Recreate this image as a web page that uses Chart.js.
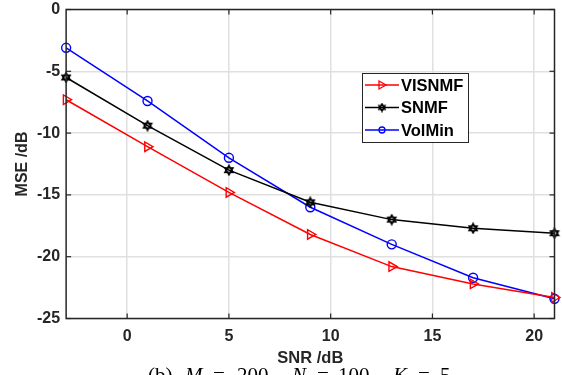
<!DOCTYPE html>
<html>
<head>
<meta charset="utf-8">
<script src="https://cdn.jsdelivr.net/npm/chart.js@4"></script>
<style>
html,body{margin:0;padding:0;background:#fff;}
#wrap{width:562px;height:375px;position:relative;}
</style>
</head>
<body>
<div id="wrap"><canvas id="c" width="562" height="375"></canvas></div>
<script>
const snr = [-3, 1, 5, 9, 13, 17, 21];
const visnmf = [-7.3, -11.1, -14.8, -18.2, -20.8, -22.2, -23.3];
const snmf = [-5.5, -9.4, -13.0, -15.6, -17.0, -17.7, -18.1];
const volmin = [-3.1, -7.4, -12.0, -16.0, -19.0, -21.7, -23.4];
const xTicks = [0, 5, 10, 15, 20];
const yTicks = [-25, -20, -15, -10, -5, 0];
const seriesNames = ['VISNMF', 'SNMF', 'VolMin'];
const xLabel = 'SNR /dB';
const yLabel = 'MSE /dB';
const captionParts = [['(b)', false, 148], ['M', true, 185], ['=', false, 213], ['200,', false, 237], ['N', true, 292], ['=', false, 317], ['100,', false, 338], ['K', true, 393], ['=', false, 418], ['5', false, 440]];

function hexagram(size, r, lw) {
  const cv = document.createElement('canvas');
  cv.width = size; cv.height = size;
  const g = cv.getContext('2d');
  const c = size / 2;
  g.strokeStyle = '#000'; g.lineWidth = lw; g.lineJoin = 'miter';
  for (let t = 0; t < 2; t++) {
    g.beginPath();
    for (let i = 0; i < 3; i++) {
      const a = -Math.PI / 2 + t * Math.PI + i * 2 * Math.PI / 3;
      const px = c + r * Math.cos(a), py = c + r * Math.sin(a);
      if (i === 0) g.moveTo(px, py); else g.lineTo(px, py);
    }
    g.closePath(); g.stroke();
  }
  return cv;
}
const hexBig = hexagram(12, 4.6, 1.6);
const hexSmall = hexagram(10, 3.6, 1.5);

const toPts = (arr) => snr.map((x, i) => ({x: x, y: arr[i]}));

const FONT = "'Liberation Sans', Arial, Helvetica, sans-serif";

const framePlugin = {
  id: 'frame',
  afterDatasetsDraw(chart) {
    const {ctx, chartArea: a, scales} = chart;
    ctx.save();
    ctx.strokeStyle = '#262626';
    ctx.lineWidth = 1.5;
    ctx.strokeRect(a.left, a.top, a.right - a.left, a.bottom - a.top);
    ctx.lineWidth = 1.2;
    xTicks.forEach(v => {
      const px = scales.x.getPixelForValue(v);
      ctx.beginPath(); ctx.moveTo(px, a.bottom); ctx.lineTo(px, a.bottom - 5); ctx.stroke();
      ctx.beginPath(); ctx.moveTo(px, a.top); ctx.lineTo(px, a.top + 5); ctx.stroke();
    });
    yTicks.forEach(v => {
      const py = scales.y.getPixelForValue(v);
      ctx.beginPath(); ctx.moveTo(a.left, py); ctx.lineTo(a.left + 5, py); ctx.stroke();
      ctx.beginPath(); ctx.moveTo(a.right, py); ctx.lineTo(a.right - 5, py); ctx.stroke();
    });
    ctx.restore();
  },
  afterDraw(chart) {
    const ctx = chart.ctx;
    ctx.save();
    const bx = 362, by = 73, bw = 106, bh = 69;
    ctx.fillStyle = '#fff';
    ctx.fillRect(bx, by, bw, bh);
    ctx.strokeStyle = '#262626'; ctx.lineWidth = 1;
    ctx.strokeRect(bx + 0.5, by + 0.5, bw, bh);
    chart.data.datasets.forEach((ds, i) => {
      const ry = by + 12 + i * 22.5;
      ctx.strokeStyle = ds.borderColor; ctx.lineWidth = 1.5;
      ctx.beginPath(); ctx.moveTo(bx + 3, ry); ctx.lineTo(bx + 37, ry); ctx.stroke();
      const mx = bx + 20;
      if (i === 0) {
        ctx.lineWidth = 1.3;
        ctx.beginPath(); ctx.moveTo(mx - 3, ry - 4); ctx.lineTo(mx + 4, ry); ctx.lineTo(mx - 3, ry + 4); ctx.closePath(); ctx.stroke();
      } else if (i === 1) {
        ctx.drawImage(hexSmall, mx - 5, ry - 5);
      } else {
        ctx.lineWidth = 1.3;
        ctx.beginPath(); ctx.arc(mx, ry, 3, 0, Math.PI * 2); ctx.stroke();
      }
      ctx.fillStyle = '#000';
      ctx.font = 'bold 16.5px ' + FONT;
      ctx.textBaseline = 'middle'; ctx.textAlign = 'left';
      ctx.fillText(ds.label, bx + 39, ry + 1);
    });
    ctx.fillStyle = '#000';
    ctx.textBaseline = 'alphabetic';
    captionParts.forEach(([t, it, x]) => {
      ctx.font = (it ? 'italic ' : '') + "21px 'Liberation Serif', 'DejaVu Serif', serif";
      ctx.fillText(t, x, 382);
    });
    ctx.restore();
  }
};

new Chart(document.getElementById('c'), {
  type: 'line',
  data: {
    datasets: [
      {label: seriesNames[0], data: toPts(visnmf), borderColor: '#ff0000', backgroundColor: '#ff0000',
       borderWidth: 1.5, pointStyle: 'triangle', pointRotation: 90, pointRadius: 5.5,
       pointBorderColor: '#ff0000', pointBackgroundColor: 'rgba(0,0,0,0)', pointBorderWidth: 1.4},
      {label: seriesNames[1], data: toPts(snmf), borderColor: '#000000', backgroundColor: '#000000',
       borderWidth: 1.5, pointStyle: hexBig, pointRadius: 6},
      {label: seriesNames[2], data: toPts(volmin), borderColor: '#0000ff', backgroundColor: '#0000ff',
       borderWidth: 1.5, pointStyle: 'circle', pointRadius: 4.5,
       pointBorderColor: '#0000ff', pointBackgroundColor: 'rgba(0,0,0,0)', pointBorderWidth: 1.4}
    ]
  },
  options: {
    responsive: false,
    animation: false,
    clip: false,
    layout: {padding: {top: 9.5, right: 7, left: 14.5, bottom: 9}},
    plugins: {legend: {display: false}, tooltip: {enabled: false}, title: {display: false}},
    elements: {line: {tension: 0}},
    scales: {
      x: {
        type: 'linear', min: -3, max: 21,
        afterBuildTicks: (s) => { s.ticks = xTicks.map(v => ({value: v})); },
        afterFit: (s) => { s.paddingLeft = 0; s.paddingRight = 0; },
        grid: {color: '#e0e0e0', lineWidth: 1.5, drawTicks: false},
        border: {display: false},
        ticks: {font: {family: FONT, size: 16, weight: 'bold'}, color: '#262626', padding: 8.4, maxRotation: 0},
        title: {display: true, text: xLabel, font: {family: FONT, size: 16.5, weight: 'bold', lineHeight: 1}, color: '#262626', padding: {top: -4, bottom: -1}}
      },
      y: {
        type: 'linear', min: -25, max: 0,
        afterBuildTicks: (s) => { s.ticks = yTicks.map(v => ({value: v})); },
        afterFit: (s) => { s.paddingTop = 0; s.paddingBottom = 0; },
        grid: {color: '#e0e0e0', lineWidth: 1.5, drawTicks: false},
        border: {display: false},
        ticks: {font: {family: FONT, size: 16, weight: 'bold'}, color: '#262626', padding: 6},
        title: {display: true, text: yLabel, font: {family: FONT, size: 16, weight: 'bold', lineHeight: 1}, color: '#262626', padding: {top: 0, bottom: 0.5}}
      }
    }
  },
  plugins: [framePlugin]
});
</script>
</body>
</html>
